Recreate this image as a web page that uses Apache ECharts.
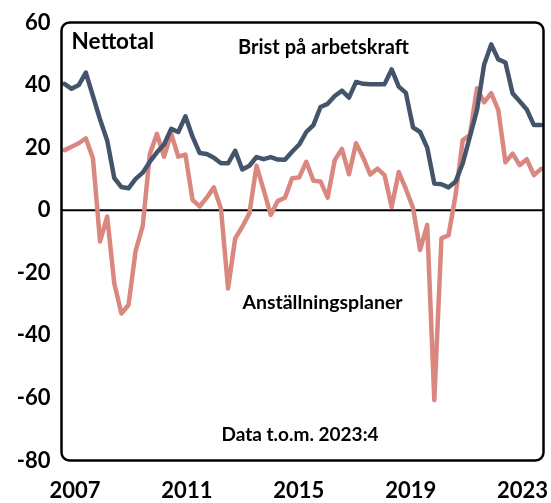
<!DOCTYPE html>
<html><head><meta charset="utf-8">
<script src="https://cdn.jsdelivr.net/npm/echarts@6/dist/echarts.min.js"></script>
<style>html,body{margin:0;padding:0;background:#fff}#c{width:551px;height:503px}</style>
</head><body><div id="c"></div>
<script>
const quarters = [
'2007:1','2007:2','2007:3','2007:4','2008:1','2008:2','2008:3','2008:4',
'2009:1','2009:2','2009:3','2009:4','2010:1','2010:2','2010:3','2010:4',
'2011:1','2011:2','2011:3','2011:4','2012:1','2012:2','2012:3','2012:4',
'2013:1','2013:2','2013:3','2013:4','2014:1','2014:2','2014:3','2014:4',
'2015:1','2015:2','2015:3','2015:4','2016:1','2016:2','2016:3','2016:4',
'2017:1','2017:2','2017:3','2017:4','2018:1','2018:2','2018:3','2018:4',
'2019:1','2019:2','2019:3','2019:4','2020:1','2020:2','2020:3','2020:4',
'2021:1','2021:2','2021:3','2021:4','2022:1','2022:2','2022:3','2022:4',
'2023:1','2023:2','2023:3','2023:4'];
const years = ['2007','2008','2009','2010','2011','2012','2013','2014','2015','2016','2017','2018','2019','2020','2021','2022','2023'];
const bristPaArbetskraft = [
40.4,38.8,40,44,36.5,29,22.3,10.3,7.4,7,10,12,15.5,18.5,21,26,
25,30,23.5,18.3,18,16.8,15,15,19,13,14.2,17,16.3,17,16.2,16.1,
18.7,21,25,27.2,33,34,36.5,38.2,36,41,40.4,40.3,40.3,40.3,45,39.5,
37.5,26.5,25,20,8.5,8.3,7.3,9.2,15,23.5,32,46.5,53,48.2,47.2,37.4,
34.8,32.2,27.2,27.2];
const anstallningsplaner = [
19.2,20.3,21.4,23,16.6,-10,-2,-23.4,-33,-30.3,-13,-5,18,24.4,17.1,24.5,
17.1,17.8,3.3,1.2,4,7.3,0.5,-25,-9,-5.3,-1,14.2,6.5,-1.5,3,4,
10.2,10.5,15.5,9.4,9.2,4,16,19.6,11.5,21.4,16.8,11.4,13.3,11.2,1,12.2,
6.8,0.8,-12.7,-4.7,-60.7,-9,-8,5,22.4,24,39,34.5,37.4,32,15.3,18.1,
14.4,16.3,11.2,13.2];
const yMin = -80, yMax = 60, yStep = 20;

const FONT = 'Lato';
const chart = echarts.init(document.getElementById('c'), null, {renderer:'canvas'});
chart.setOption({
  animation:false,
  backgroundColor:'#fff',
  grid:[
    {left:64.5, right:10, top:22.5, bottom:42.5},
    {left:61, right:12, top:22.5, bottom:42.5}
  ],
  xAxis:[
    {type:'category', gridIndex:0, data:quarters, boundaryGap:false,
     axisLine:{show:false}, axisTick:{show:false}, axisLabel:{show:false}, splitLine:{show:false}},
    {type:'category', gridIndex:1, data:years, boundaryGap:true, position:'bottom',
     axisLine:{show:false}, axisTick:{show:false}, splitLine:{show:false},
     axisLabel:{interval:3, margin:19, color:'#000', fontFamily:FONT, fontWeight:'bold', fontSize:22}}
  ],
  yAxis:[
    {type:'value', gridIndex:0, min:yMin, max:yMax, interval:yStep,
     axisLine:{show:false}, axisTick:{show:false}, splitLine:{show:false},
     axisLabel:{margin:14, color:'#000', fontFamily:FONT, fontWeight:'bold', fontSize:22}},
    {type:'value', gridIndex:1, min:yMin, max:yMax, show:false}
  ],
  series:[
    {name:'Anställningsplaner', type:'line', xAxisIndex:0, yAxisIndex:0, data:anstallningsplaner,
     symbol:'none', lineStyle:{color:'#D9877F', width:4.5, cap:'round', join:'round'}},
    {name:'Brist på arbetskraft', type:'line', xAxisIndex:0, yAxisIndex:0, data:bristPaArbetskraft,
     symbol:'none', lineStyle:{color:'#44546A', width:4.5, cap:'round', join:'round'}}
  ]
});
const yTop = chart.convertToPixel({yAxisIndex:0}, yMax);
const yBot = chart.convertToPixel({yAxisIndex:0}, yMin);
const y0 = chart.convertToPixel({yAxisIndex:0}, 0);
const fL = 61.5, fR = 543.5;
chart.setOption({
  graphic:[
    {type:'line', shape:{x1:fL, y1:y0, x2:fR, y2:y0}, style:{stroke:'#000', lineWidth:2}, z:1},
    {type:'rect', shape:{x:fL, y:yTop, width:fR-fL, height:yBot-yTop, r:8}, style:{fill:null, stroke:'#000', lineWidth:2.5}, z:10},
    {type:'text', x:71.5, y:41.5, style:{text:'Nettotal', fill:'#000', font:'bold 22.5px '+FONT, textVerticalAlign:'middle'}, z:11},
    {type:'text', x:323.5, y:47.5, style:{text:'Brist på arbetskraft', fill:'#000', font:'bold 20px '+FONT, textAlign:'center', textVerticalAlign:'middle'}, z:11},
    {type:'text', x:322.5, y:302.5, style:{text:'Anställningsplaner', fill:'#000', font:'bold 19.5px '+FONT, textAlign:'center', textVerticalAlign:'middle'}, z:11},
    {type:'text', x:300, y:435, style:{text:'Data t.o.m. 2023:4', fill:'#000', font:'bold 19px '+FONT, textAlign:'center', textVerticalAlign:'middle'}, z:11}
  ]
});
</script></body></html>
